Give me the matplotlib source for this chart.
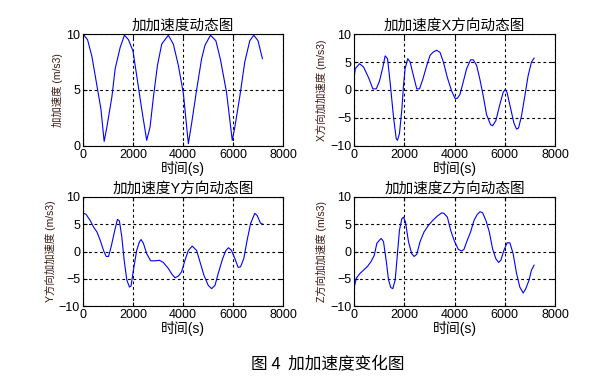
import matplotlib
matplotlib.use("Agg")
import matplotlib.pyplot as plt

plt.rcParams['font.family'] = ['Liberation Sans', 'Noto Sans CJK SC', 'DejaVu Sans']

# 加加速度 (合成)
t_all = [0, 186, 360, 560, 720, 850, 960, 1160, 1290, 1490, 1660, 1820, 2000, 2150,
         2350, 2550, 2685, 2820, 2980, 3150, 3415, 3615, 3815, 4015, 4215, 4345,
         4545, 4745, 4880, 5100, 5315, 5500, 5740, 5970, 6075, 6270, 6470, 6670,
         6830, 7000, 7175]
j_all = [10.0, 9.5, 8.0, 5.4, 3.3, 0.4, 1.7, 4.4, 6.9, 8.8, 9.9, 9.5, 8.5, 6.3,
         3.3, 0.5, 1.7, 4.4, 7.2, 9.1, 9.9, 9.1, 7.2, 4.7, 0.2, 2.0,
         5.0, 7.8, 9.0, 9.9, 9.4, 7.7, 4.8, 0.5, 1.7, 4.4, 7.5, 9.4,
         9.9, 9.4, 7.8]

# X方向
t_x = [0, 40, 210, 370, 570, 740, 875, 1005, 1140, 1230, 1325, 1430, 1560, 1670,
       1720, 1800, 1895, 1960, 2025, 2130, 2225, 2360, 2490, 2600, 2730, 2890,
       3020, 3150, 3285, 3420, 3550, 3710, 3880, 4015, 4105, 4210, 4345, 4475,
       4635, 4740, 4875, 5005, 5140, 5270, 5430, 5510, 5640, 5800, 5935, 6015,
       6090, 6225, 6360, 6465, 6545, 6660, 6795, 6925, 7060, 7165]
j_x = [2.4, 3.8, 4.7, 4.1, 2.2, 0.2, 0.2, 1.6, 4.1, 6.1, 5.6, 1.3, -4.7, -8.7,
       -9.0, -7.8, -3.5, 0.7, 3.8, 5.6, 5.0, 2.5, 0.2, 0.2, 1.9, 4.4,
       6.2, 6.8, 7.1, 6.7, 5.0, 2.2, -0.2, -1.5, -1.5, -0.8, 1.5, 3.8,
       5.4, 5.4, 4.4, 1.9, -1.1, -4.4, -6.2, -6.4, -5.5, -2.6, -0.4, 0.1,
       -0.5, -3.2, -5.9, -7.0, -6.8, -4.7, -1.1, 2.5, 5.0, 5.7]

# Y方向
t_y = [0, 130, 290, 425, 560, 690, 825, 930, 1025, 1130, 1260, 1380, 1460, 1555,
       1650, 1755, 1860, 1925, 2020, 2150, 2260, 2325, 2420, 2550, 2710, 2885,
       3055, 3215, 3415, 3550, 3680, 3815, 3945, 4080, 4215, 4370, 4545, 4680,
       4835, 5010, 5145, 5280, 5410, 5585, 5715, 5820, 5940, 6075, 6205, 6300,
       6430, 6565, 6700, 6870, 6965, 7100, 7200]
j_y = [7.1, 6.8, 5.7, 4.5, 3.6, 2.1, 0.2, -0.9, -0.9, 0.9, 3.6, 5.9, 5.6, 2.7,
       -1.6, -5.2, -6.5, -6.3, -3.4, 0.2, 1.8, 2.2, 1.5, -0.4, -1.7, -1.7,
       -1.6, -2.0, -3.1, -4.1, -4.8, -4.5, -3.7, -1.6, 0.2, 1.0, 0.2, -1.9,
       -4.3, -6.2, -6.8, -6.2, -4.0, -1.3, 0.2, 0.7, 0.2, -1.3, -2.9, -2.8,
       -1.3, 2.1, 5.1, 7.0, 6.6, 5.2, 5.0]

# Z方向
t_z = [0, 80, 210, 370, 530, 660, 795, 900, 1005, 1075, 1165, 1270, 1365, 1455,
       1535, 1630, 1720, 1800, 1895, 1960, 2040, 2160, 2290, 2385, 2490, 2620,
       2780, 2955, 3125, 3310, 3485, 3575, 3710, 3840, 3975, 4145, 4280, 4370,
       4505, 4635, 4770, 4900, 5010, 5115, 5245, 5380, 5510, 5640, 5750, 5840,
       5960, 6090, 6200, 6330, 6465, 6595, 6730, 6835, 6965, 7060, 7165]
j_z = [-6.5, -4.9, -4.1, -3.4, -2.7, -1.9, -0.7, 1.5, 2.1, 2.4, 1.8, -1.6, -5.2, -6.6,
       -6.8, -5.2, -0.4, 3.9, 6.0, 6.3, 5.4, 1.8, -0.4, -0.9, -0.5, 1.8,
       3.6, 4.8, 5.7, 6.5, 7.1, 7.0, 6.3, 3.9, 2.1, 0.4, 0.1, 0.4,
       2.1, 3.6, 5.7, 6.8, 7.3, 7.1, 5.7, 3.6, 0.5, -1.3, -2.0, -1.6,
       0.2, 1.6, 1.6, -0.4, -4.0, -6.5, -7.6, -6.8, -5.2, -3.4, -2.5]

panels = [
    (t_all, j_all, "加加速度动态图", "加加速度 (m/s3)", [0, 5, 10], (0, 10)),
    (t_x, j_x, "加加速度X方向动态图", "X方向加加速度 (m/s3)", [-10, -5, 0, 5, 10], (-10, 10)),
    (t_y, j_y, "加加速度Y方向动态图", "Y方向加加速度 (m/s3)", [-10, -5, 0, 5, 10], (-10, 10)),
    (t_z, j_z, "加加速度Z方向动态图", "Z方向加加速度 (m/s3)", [-10, -5, 0, 5, 10], (-10, 10)),
]
rects = [
    [0.135, 0.623, 0.326, 0.289],
    [0.577, 0.623, 0.327, 0.289],
    [0.135, 0.209, 0.326, 0.282],
    [0.577, 0.209, 0.327, 0.282],
]

fig = plt.figure(figsize=(6.14, 3.87), dpi=100)
for (t, j, title, ylab, yt, ylim), r in zip(panels, rects):
    ax = fig.add_axes(r)
    ax.plot(t, j, color="blue", lw=0.8)
    ax.set_xlim(0, 8000)
    ax.set_ylim(*ylim)
    ax.set_xticks([0, 2000, 4000, 6000, 8000])
    ax.set_yticks(yt)
    ax.grid(True, color="black", linestyle=(0, (2.5, 2.5)), lw=0.8)
    ax.tick_params(direction="in", length=3, labelsize=9, top=True, right=True, pad=2)
    for s in ax.spines.values():
        s.set_linewidth(0.8)
    ax.set_title(title, fontsize=10.5, pad=3)
    ax.set_xlabel("时间(s)", fontsize=10, labelpad=0)
    ax.set_ylabel(ylab, fontsize=7.5, color="#3a1a10", labelpad=2)

fig.text(0.534, 0.057, "图 4  加加速度变化图", fontsize=12, ha="center", va="center",
         family=["Noto Sans CJK SC", "DejaVu Sans"])

fig.savefig("out.png", dpi=100)
